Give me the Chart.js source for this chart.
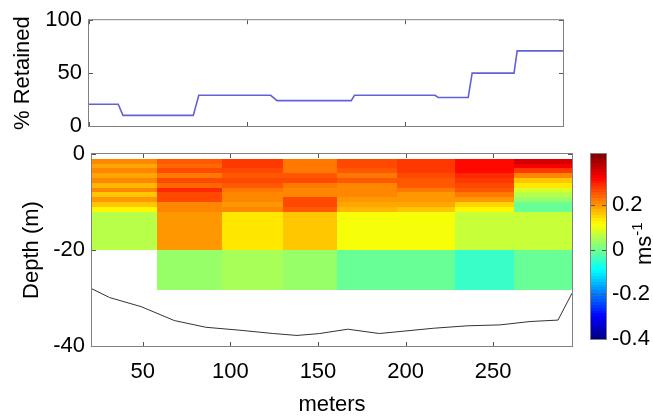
<!DOCTYPE html>
<html><head><meta charset="utf-8">
<script src="https://cdn.jsdelivr.net/npm/chart.js@4.4.1/dist/chart.umd.min.js"></script>
<style>
html,body{margin:0;padding:0;background:#fff;width:653px;height:416px;overflow:hidden;}
canvas{position:absolute;left:0;top:0;}
#cblabel{position:absolute;left:633px;top:265px;transform:rotate(-90deg);transform-origin:0 0;font:22px "Liberation Sans",Arial,sans-serif;line-height:22px;white-space:nowrap;color:#000;}
</style></head><body>
<canvas id="topChart" width="653" height="416"></canvas>
<canvas id="mainChart" width="653" height="416"></canvas>
<canvas id="cbarChart" width="653" height="416"></canvas>
<div id="cblabel">ms<span style="position:relative;top:-9px;font-size:15px">-1</span></div>
<script>
// ---------- data ----------
const retainedX   = [0, 18.5, 21.5, 66, 69.5, 115, 119, 166, 168, 219, 221, 240, 242.5, 269, 271, 300];
const retainedPct = [20.5, 20.5, 10, 10, 29, 29, 24, 24, 29, 29, 27, 27, 50, 50, 71, 71];

const bottomX     = [21, 31, 49, 68, 86, 105, 124.5, 138, 151, 167, 185, 216, 235, 254, 271, 287, 295];
const bottomDepth = [-28.1, -29.9, -31.8, -34.7, -36.1, -36.7, -37.4, -37.8, -37.4, -36.5, -37.4, -36.3, -35.8, -35.6, -34.9, -34.6, -29];

const sectionEdges = [21, 58, 95, 130, 161, 195, 228, 262, 295];
const binEdges = [-1, -2, -3, -4, -5, -6, -7, -8, -9, -10, -11, -12, -20, -28.3];

const sec1 = [0.21, 0.19, 0.21, 0.19, 0.21, 0.18, 0.21, 0.17, 0.20, 0.16, 0.13, 0.063, null];
const sec2 = [0.254, 0.245, 0.262, 0.229, 0.262, 0.237, 0.293, 0.27, 0.262, 0.22, 0.21, 0.204, 0.04];
const sec3 = [0.28, 0.28, 0.27, 0.25, 0.262, 0.255, 0.23, 0.22, 0.213, 0.204, 0.21, 0.136, 0.047];
const sec4 = [0.225, 0.225, 0.23, 0.25, 0.262, 0.23, 0.22, 0.21, 0.262, 0.262, 0.25, 0.165, 0.035];
const sec5 = [0.262, 0.262, 0.254, 0.229, 0.254, 0.22, 0.21, 0.21, 0.2, 0.19, 0.18, 0.11, 0.0];
const sec6 = [0.28, 0.28, 0.285, 0.27, 0.26, 0.25, 0.23, 0.205, 0.205, 0.19, 0.165, 0.11, 0.0];
const sec7 = [0.325, 0.325, 0.32, 0.30, 0.285, 0.27, 0.25, 0.225, 0.2, 0.15, 0.13, 0.075, -0.047];
const sec8 = [0.36, 0.33, 0.28, 0.22, 0.16, 0.14, 0.08, 0.06, 0.03, -0.01, -0.01, 0.075, 0.0];

const topXTicks = [0, 100, 200, 300];
const pctTicks = [0, 50, 100];
const meterTicks = [50, 100, 150, 200, 250];
const depthTicks = [-40, -20, 0];
const cbarTicks = [-0.4, -0.2, 0, 0.2];
const cmin = -0.4, cmax = 0.43;

const sections = [sec1, sec2, sec3, sec4, sec5, sec6, sec7, sec8];

// ---------- helpers ----------
function jet(v) {
  let t = (v - cmin) / (cmax - cmin);
  t = Math.min(1, Math.max(0, t));
  const k = Math.min(63, Math.floor(t * 64));
  const s = (k + 0.5) / 64;
  const f = z => Math.round(255 * Math.min(1, Math.max(0, z)));
  return 'rgb(' + f(1.5 - Math.abs(4 * s - 3)) + ',' + f(1.5 - Math.abs(4 * s - 2)) + ',' + f(1.5 - Math.abs(4 * s - 1)) + ')';
}
const setTicks = arr => s => { s.ticks = arr.map(v => ({ value: v })); };
const FONT = { family: '"Liberation Sans", Arial, sans-serif', size: 22 };
Chart.defaults.font.family = FONT.family;
Chart.defaults.color = '#000';

const boxPlugin = {
  id: 'matlabBox',
  beforeDatasetsDraw(chart) {
    const { ctx, chartArea: a, scales } = chart;
    const tl = 4;
    ctx.save();
    ctx.strokeStyle = '#555';
    ctx.lineWidth = 1;
    ctx.beginPath();
    if (scales.x.options.display) {
      scales.x.ticks.forEach(t => {
        const px = Math.round(scales.x.getPixelForValue(t.value)) + 0.5;
        ctx.moveTo(px, a.bottom); ctx.lineTo(px, a.bottom - tl);
        ctx.moveTo(px, a.top); ctx.lineTo(px, a.top + tl);
      });
    }
    scales.y.ticks.forEach(t => {
      const py = Math.round(scales.y.getPixelForValue(t.value)) + 0.5;
      ctx.moveTo(a.left, py); ctx.lineTo(a.left + tl, py);
      ctx.moveTo(a.right, py); ctx.lineTo(a.right - tl, py);
    });
    ctx.stroke();
    ctx.restore();
  },
  afterDatasetsDraw(chart) {
    const { ctx, chartArea: a } = chart;
    ctx.save();
    ctx.strokeStyle = '#808080';
    ctx.lineWidth = 1;
    ctx.strokeRect(a.left - 0.5, a.top - 0.5, a.right - a.left + 1, a.bottom - a.top + 1);
    ctx.restore();
  }
};

const heatmapPlugin = {
  id: 'heatmap',
  beforeDatasetsDraw(chart) {
    const { ctx, scales: { x, y } } = chart;
    ctx.save();
    sections.forEach((col, i) => {
      const x0 = Math.round(x.getPixelForValue(sectionEdges[i]));
      const x1 = Math.round(x.getPixelForValue(sectionEdges[i + 1]));
      col.forEach((v, j) => {
        if (v === null) return;
        const y0 = Math.round(y.getPixelForValue(binEdges[j]));
        const y1 = Math.round(y.getPixelForValue(binEdges[j + 1]));
        ctx.fillStyle = jet(v);
        ctx.fillRect(x0, y0, x1 - x0, y1 - y0);
      });
    });
    ctx.restore();
  }
};

const colorbarPlugin = {
  id: 'colorbar',
  beforeDatasetsDraw(chart) {
    const { ctx, chartArea: a, scales: { y } } = chart;
    ctx.save();
    for (let k = 0; k < 64; k++) {
      const v0 = cmin + (cmax - cmin) * k / 64;
      const v1 = cmin + (cmax - cmin) * (k + 1) / 64;
      const p0 = y.getPixelForValue(v0), p1 = y.getPixelForValue(v1);
      ctx.fillStyle = jet((v0 + v1) / 2);
      ctx.fillRect(a.left, Math.floor(p1), a.right - a.left, Math.ceil(p0) - Math.floor(p1));
    }
    ctx.restore();
  }
};

const common = {
  responsive: false, animation: false, devicePixelRatio: 1, events: [],
  plugins: { legend: { display: false }, tooltip: { enabled: false } }
};

// ---------- top: % retained ----------
new Chart(document.getElementById('topChart'), {
  type: 'line',
  data: { datasets: [{
    data: retainedX.map((x, i) => ({ x: x, y: retainedPct[i] })),
    borderColor: '#6262d6', borderWidth: 1.6, pointRadius: 0, fill: false, tension: 0
  }]},
  options: Object.assign({}, common, {
    layout: { autoPadding: false, padding: { left: 0, right: 90, top: 20, bottom: 280 } },
    scales: {
      x: { type: 'linear', min: 0, max: 300, afterBuildTicks: setTicks(topXTicks),
           ticks: { display: false }, grid: { display: false, drawTicks: false }, border: { display: false },
           afterFit: s => { s.height = 10; } },
      y: { type: 'linear', min: 0, max: 100, afterBuildTicks: setTicks(pctTicks),
           ticks: { padding: 7, font: FONT, color: '#000', callback: v => String(v) },
           grid: { display: false, drawTicks: false }, border: { display: false },
           title: { display: true, text: '% Retained', color: '#000', font: { family: FONT.family, size: 22, lineHeight: 1 }, padding: { top: 12, bottom: 0 } },
           afterFit: s => { s.width = 89; } }
    }
  }),
  plugins: [boxPlugin]
});

// ---------- main: velocity section ----------
new Chart(document.getElementById('mainChart'), {
  type: 'line',
  data: { datasets: [{
    data: bottomX.map((x, i) => ({ x: x, y: bottomDepth[i] })),
    borderColor: '#333', borderWidth: 1, pointRadius: 0, fill: false, tension: 0
  }]},
  options: Object.assign({}, common, {
    layout: { autoPadding: false, padding: { left: 0, right: 81, top: 154, bottom: 0 } },
    scales: {
      x: { type: 'linear', min: 21, max: 295, afterBuildTicks: setTicks(meterTicks),
           ticks: { padding: 13, font: FONT, color: '#000', maxRotation: 0, callback: v => String(v) },
           grid: { display: false, drawTicks: false }, border: { display: false },
           title: { display: true, text: 'meters', color: '#000', font: { family: FONT.family, size: 22, lineHeight: 1 }, padding: { top: 0, bottom: 0 } },
           afterFit: s => { s.height = 70; } },
      y: { type: 'linear', min: -40, max: 0, afterBuildTicks: setTicks(depthTicks),
           ticks: { padding: 7, font: FONT, color: '#000', callback: v => String(v) },
           grid: { display: false, drawTicks: false }, border: { display: false },
           title: { display: true, text: 'Depth (m)', color: '#000', font: { family: FONT.family, size: 22, lineHeight: 1 }, padding: { top: 21, bottom: 0 } },
           afterFit: s => { s.width = 92; } }
    }
  }),
  plugins: [boxPlugin, heatmapPlugin]
});

// ---------- colorbar ----------
new Chart(document.getElementById('cbarChart'), {
  type: 'line',
  data: { datasets: [{ data: [] }] },
  options: Object.assign({}, common, {
    layout: { autoPadding: false, padding: { left: 591, right: 0, top: 154, bottom: 77 } },
    scales: {
      x: { type: 'linear', min: 0, max: 1, display: false },
      y: { type: 'linear', position: 'right', min: cmin, max: cmax, afterBuildTicks: setTicks(cbarTicks),
           ticks: { padding: 6, font: FONT, color: '#000', callback: v => String(v) },
           grid: { display: false, drawTicks: false }, border: { display: false },
           afterFit: s => { s.width = 47; } }
    }
  }),
  plugins: [colorbarPlugin, boxPlugin]
});
</script>
</body></html>
